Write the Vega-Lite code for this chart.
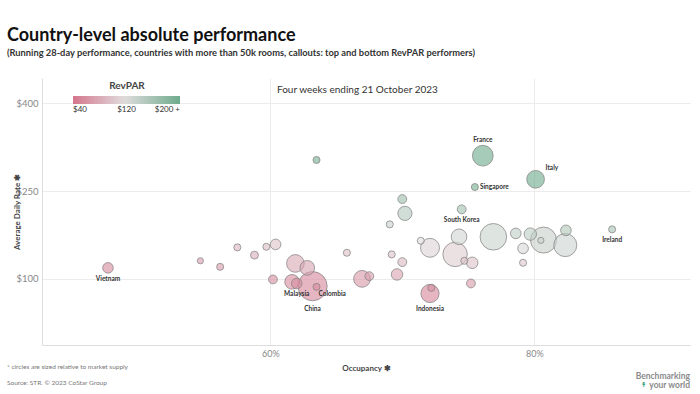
{
  "$schema": "https://vega.github.io/schema/vega-lite/v6.json",
  "width": 648,
  "height": 267,
  "autosize": {"type": "none"},
  "padding": {"left": 42, "top": 78, "right": 10, "bottom": 49},
  "background": "white",
  "config": {"font": "Lato", "view": {"stroke": null}},
  "title": {
    "text": "Country-level absolute performance",
    "subtitle": "(Running 28-day performance, countries with more than 50k rooms, callouts: top and bottom RevPAR performers)",
    "anchor": "start",
    "frame": "group",
    "dx": -35,
    "offset": 20,
    "font": "Lato",
    "fontSize": 18,
    "fontWeight": "bold",
    "color": "#111111",
    "subtitleFont": "Lato",
    "subtitleFontSize": 9.3,
    "subtitleFontWeight": "bold",
    "subtitleColor": "#333333",
    "subtitlePadding": 4
  },
  "datasets": {
    "countries": [
      {"country": "Vietnam", "occ": 47.7, "adr": 118.8, "revpar": 56.7, "supply": 144},
      {"country": "", "occ": 54.7, "adr": 130.8, "revpar": 71.6, "supply": 49},
      {"country": "", "occ": 56.2, "adr": 120.5, "revpar": 67.7, "supply": 64},
      {"country": "", "occ": 57.5, "adr": 153.7, "revpar": 88.4, "supply": 64},
      {"country": "", "occ": 58.8, "adr": 140.5, "revpar": 82.7, "supply": 81},
      {"country": "", "occ": 59.7, "adr": 154.7, "revpar": 92.4, "supply": 64},
      {"country": "", "occ": 60.4, "adr": 158.8, "revpar": 95.9, "supply": 144},
      {"country": "", "occ": 60.2, "adr": 99.0, "revpar": 59.6, "supply": 100},
      {"country": "", "occ": 61.9, "adr": 126.3, "revpar": 78.2, "supply": 400},
      {"country": "", "occ": 62.8, "adr": 118.8, "revpar": 74.6, "supply": 276},
      {"country": "", "occ": 61.65, "adr": 94.9, "revpar": 58.5, "supply": 276},
      {"country": "Malaysia", "occ": 62.0, "adr": 92.1, "revpar": 57.1, "supply": 144},
      {"country": "China", "occ": 63.2, "adr": 87.5, "revpar": 55.3, "supply": 1089},
      {"country": "Colombia", "occ": 63.5, "adr": 86.3, "revpar": 54.8, "supply": 64},
      {"country": "", "occ": 63.5, "adr": 303.0, "revpar": 192.4, "supply": 64},
      {"country": "", "occ": 65.8, "adr": 144.5, "revpar": 95.0, "supply": 64},
      {"country": "", "occ": 66.95, "adr": 100.0, "revpar": 67.0, "supply": 361},
      {"country": "", "occ": 67.5, "adr": 104.6, "revpar": 70.6, "supply": 100},
      {"country": "", "occ": 69.05, "adr": 193.0, "revpar": 133.3, "supply": 64},
      {"country": "", "occ": 70.0, "adr": 236.3, "revpar": 165.4, "supply": 100},
      {"country": "", "occ": 70.2, "adr": 211.8, "revpar": 148.6, "supply": 256},
      {"country": "", "occ": 69.2, "adr": 141.7, "revpar": 98.0, "supply": 64},
      {"country": "", "occ": 70.0, "adr": 128.6, "revpar": 90.0, "supply": 100},
      {"country": "", "occ": 69.6, "adr": 107.5, "revpar": 74.9, "supply": 169},
      {"country": "Indonesia", "occ": 72.1, "adr": 75.0, "revpar": 54.1, "supply": 424},
      {"country": "", "occ": 72.2, "adr": 84.6, "revpar": 61.1, "supply": 64},
      {"country": "", "occ": 71.4, "adr": 165.0, "revpar": 117.8, "supply": 64},
      {"country": "", "occ": 72.1, "adr": 153.0, "revpar": 110.3, "supply": 458},
      {"country": "South Korea", "occ": 74.5, "adr": 218.7, "revpar": 162.9, "supply": 100},
      {"country": "", "occ": 74.3, "adr": 171.8, "revpar": 127.6, "supply": 310},
      {"country": "", "occ": 74.0, "adr": 141.7, "revpar": 104.8, "supply": 762},
      {"country": "", "occ": 74.7, "adr": 130.8, "revpar": 97.7, "supply": 64},
      {"country": "", "occ": 75.3, "adr": 127.4, "revpar": 95.9, "supply": 169},
      {"country": "", "occ": 75.2, "adr": 92.1, "revpar": 69.2, "supply": 100},
      {"country": "", "occ": 76.9, "adr": 171.8, "revpar": 132.1, "supply": 900},
      {"country": "France", "occ": 76.1, "adr": 310.3, "revpar": 236.2, "supply": 548},
      {"country": "Italy", "occ": 80.1, "adr": 270.0, "revpar": 216.4, "supply": 400},
      {"country": "Singapore", "occ": 75.5, "adr": 256.8, "revpar": 193.9, "supply": 64},
      {"country": "", "occ": 78.6, "adr": 177.6, "revpar": 139.6, "supply": 144},
      {"country": "", "occ": 79.7, "adr": 176.4, "revpar": 140.6, "supply": 196},
      {"country": "", "occ": 80.5, "adr": 165.7, "revpar": 133.4, "supply": 49},
      {"country": "", "occ": 80.7, "adr": 166.2, "revpar": 134.1, "supply": 864},
      {"country": "", "occ": 82.4, "adr": 182.8, "revpar": 150.6, "supply": 144},
      {"country": "", "occ": 82.35, "adr": 157.6, "revpar": 129.8, "supply": 676},
      {"country": "", "occ": 79.15, "adr": 152.0, "revpar": 120.3, "supply": 144},
      {"country": "", "occ": 79.15, "adr": 127.4, "revpar": 100.8, "supply": 64},
      {"country": "Ireland", "occ": 85.9, "adr": 184.5, "revpar": 158.4, "supply": 64}
    ],
    "note": [{"t": "Four weeks ending 21 October 2023"}],
    "foot1": [{"t": "* circles are sized relative to market supply"}],
    "foot2": [{"t": "Source: STR. © 2023 CoStar Group"}],
    "logo1": [{"t": "Benchmarking"}],
    "logo2": [{"t": "your world"}],
    "logo3": [{"t": "↟"}]
  },
  "layer": [
    {
      "data": {"name": "countries"},
      "mark": {"type": "circle", "fillOpacity": 0.62, "stroke": "#808080", "strokeWidth": 0.8, "strokeOpacity": 0.9},
      "encoding": {
        "x": {
          "field": "occ", "type": "quantitative",
          "scale": {"domain": [42.7, 91.8], "nice": false, "zero": false},
          "axis": {
            "values": [60, 80], "labelExpr": "datum.value + '%'", "title": "Occupancy ✱",
            "grid": true, "gridColor": "#ececec", "domainColor": "#dddddd", "ticks": false,
            "labelColor": "#888888", "labelFontSize": 9, "labelPadding": 4,
            "titleFontSize": 8, "titleColor": "#444444", "titleFontWeight": "bold", "titlePadding": 6
          }
        },
        "y": {
          "field": "adr", "type": "quantitative",
          "scale": {"domain": [-13, 443], "nice": false, "zero": false},
          "axis": {
            "values": [100, 250, 400], "labelExpr": "'$' + datum.value", "title": "Average Daily Rate ✱",
            "grid": true, "gridColor": "#ececec", "domainColor": "#dddddd", "ticks": false,
            "labelColor": "#888888", "labelFontSize": 9.5, "labelPadding": 4,
            "titleFontSize": 8, "titleColor": "#444444", "titleFontWeight": "bold", "titlePadding": -6
          }
        },
        "size": {"field": "supply", "type": "quantitative", "scale": {"domain": [0, 1200], "range": [0, 942], "zero": true}, "legend": null},
        "color": {
          "field": "revpar", "type": "quantitative",
          "scale": {"domain": [40, 116, 200], "range": ["#d4758c", "#e0dcdd", "#6fab8c"], "clamp": true, "interpolate": "rgb"},
          "legend": {
            "title": "RevPAR", "orient": "none", "legendX": 31, "legendY": 3, "direction": "horizontal",
            "gradientLength": 107, "gradientThickness": 8, "gradientStrokeWidth": 0,
            "values": [40, 120, 200], "labelExpr": "datum.value == 200 ? '$200 +' : '$' + datum.value",
            "titleAnchor": "middle", "titleFontSize": 10, "titleColor": "#444444", "titleFontWeight": "bold",
            "labelColor": "#333333", "labelFontSize": 8
          }
        },
        "order": {"field": "supply", "sort": "descending"}
      }
    },
    {
      "mark": {"type": "rule", "strokeDash": [2, 2], "color": "#cccccc", "strokeWidth": 0.8},
      "encoding": {"y": {"datum": 0}}
    },
    {
      "data": {"name": "countries"},
      "transform": [{"filter": {"field": "country", "oneOf": ["South Korea", "Ireland", "Vietnam", "Malaysia"]}}],
      "mark": {"type": "text", "fontSize": 6.5, "fontWeight": "bold", "color": "#333333", "align": "center", "baseline": "middle", "dy": 11},
      "encoding": {"x": {"field": "occ", "type": "quantitative"}, "y": {"field": "adr", "type": "quantitative"}, "text": {"field": "country"}}
    },
    {
      "data": {"name": "countries"},
      "transform": [{"filter": {"field": "country", "equal": "China"}}],
      "mark": {"type": "text", "fontSize": 6.5, "fontWeight": "bold", "color": "#333333", "align": "center", "baseline": "middle", "dy": 23},
      "encoding": {"x": {"field": "occ", "type": "quantitative"}, "y": {"field": "adr", "type": "quantitative"}, "text": {"field": "country"}}
    },
    {
      "data": {"name": "countries"},
      "transform": [{"filter": {"field": "country", "equal": "Indonesia"}}],
      "mark": {"type": "text", "fontSize": 6.5, "fontWeight": "bold", "color": "#333333", "align": "center", "baseline": "middle", "dy": 16},
      "encoding": {"x": {"field": "occ", "type": "quantitative"}, "y": {"field": "adr", "type": "quantitative"}, "text": {"field": "country"}}
    },
    {
      "data": {"name": "countries"},
      "transform": [{"filter": {"field": "country", "equal": "France"}}],
      "mark": {"type": "text", "fontSize": 6.5, "fontWeight": "bold", "color": "#333333", "align": "center", "baseline": "middle", "dy": -16},
      "encoding": {"x": {"field": "occ", "type": "quantitative"}, "y": {"field": "adr", "type": "quantitative"}, "text": {"field": "country"}}
    },
    {
      "data": {"name": "countries"},
      "transform": [{"filter": {"field": "country", "equal": "Italy"}}],
      "mark": {"type": "text", "fontSize": 6.5, "fontWeight": "bold", "color": "#333333", "align": "left", "baseline": "middle", "dx": 10, "dy": -11.5},
      "encoding": {"x": {"field": "occ", "type": "quantitative"}, "y": {"field": "adr", "type": "quantitative"}, "text": {"field": "country"}}
    },
    {
      "data": {"name": "countries"},
      "transform": [{"filter": {"field": "country", "equal": "Singapore"}}],
      "mark": {"type": "text", "fontSize": 6.5, "fontWeight": "bold", "color": "#333333", "align": "left", "baseline": "middle", "dx": 5, "dy": 0},
      "encoding": {"x": {"field": "occ", "type": "quantitative"}, "y": {"field": "adr", "type": "quantitative"}, "text": {"field": "country"}}
    },
    {
      "data": {"name": "countries"},
      "transform": [{"filter": {"field": "country", "equal": "Colombia"}}],
      "mark": {"type": "text", "fontSize": 6.5, "fontWeight": "bold", "color": "#333333", "align": "left", "baseline": "middle", "dx": 2, "dy": 7},
      "encoding": {"x": {"field": "occ", "type": "quantitative"}, "y": {"field": "adr", "type": "quantitative"}, "text": {"field": "country"}}
    },
    {
      "data": {"name": "note"},
      "mark": {"type": "text", "fontSize": 10, "color": "#333333", "align": "left", "baseline": "middle"},
      "encoding": {"x": {"datum": 60.5}, "y": {"datum": 423}, "text": {"field": "t"}}
    },
    {
      "data": {"name": "foot1"},
      "mark": {"type": "text", "fontSize": 6.5, "color": "#777777", "align": "left", "baseline": "middle"},
      "encoding": {"x": {"datum": 40.05}, "y": {"datum": -50.6}, "text": {"field": "t"}}
    },
    {
      "data": {"name": "foot2"},
      "mark": {"type": "text", "fontSize": 6.5, "color": "#777777", "align": "left", "baseline": "middle"},
      "encoding": {"x": {"datum": 40.05}, "y": {"datum": -77.9}, "text": {"field": "t"}}
    },
    {
      "data": {"name": "logo1"},
      "mark": {"type": "text", "fontSize": 8.5, "fontWeight": "bold", "color": "#8a8a8a", "align": "right", "baseline": "middle"},
      "encoding": {"x": {"datum": 91.8}, "y": {"datum": -66}, "text": {"field": "t"}}
    },
    {
      "data": {"name": "logo2"},
      "mark": {"type": "text", "fontSize": 8.5, "fontWeight": "bold", "color": "#8a8a8a", "align": "right", "baseline": "middle"},
      "encoding": {"x": {"datum": 91.8}, "y": {"datum": -80.5}, "text": {"field": "t"}}
    },
    {
      "data": {"name": "logo3"},
      "mark": {"type": "text", "font": "DejaVu Sans", "fontSize": 7, "fontWeight": "bold", "color": "#2fa57f", "align": "center", "baseline": "middle"},
      "encoding": {"x": {"datum": 88.3}, "y": {"datum": -80.5}, "text": {"field": "t"}}
    }
  ]
}
